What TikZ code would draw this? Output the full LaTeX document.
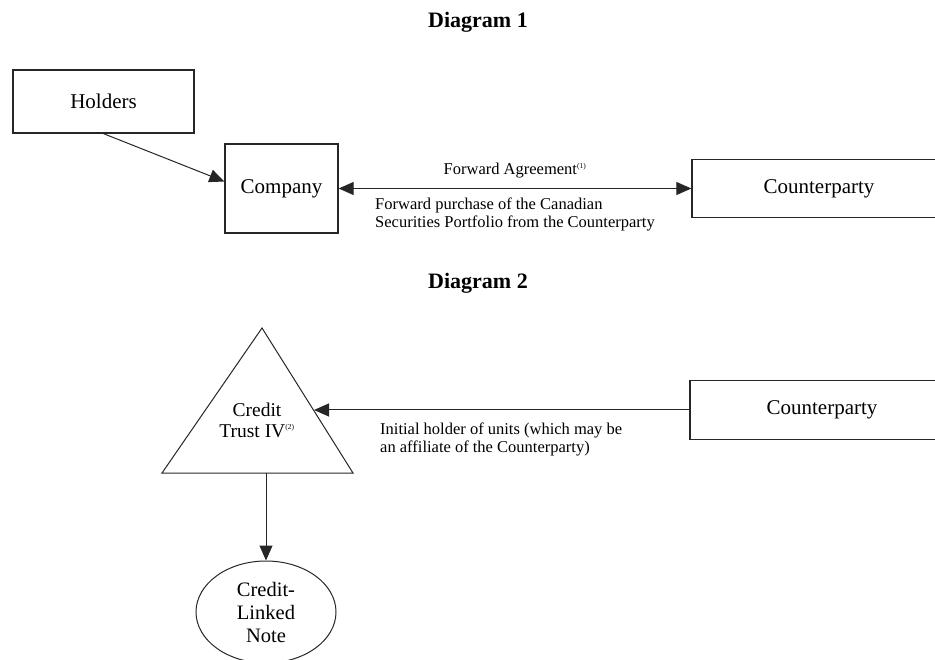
\documentclass[tikz,border=0pt]{standalone}
\usepackage{fontspec}
\setmainfont{Liberation Serif}
\usetikzlibrary{arrows.meta,shapes.geometric}
\newcommand{\supnote}[1]{\textsuperscript{\fontsize{7.5}{8}\selectfont #1}}
\begin{document}
\begin{tikzpicture}[x=1pt,y=-1pt,
  >={Triangle[length=15pt,width=13pt]},
  every node/.style={inner sep=0pt},
  title/.style={font=\fontsize{22}{26}\selectfont\bfseries},
  box/.style={draw=black!85,line width=1.3pt,font=\fontsize{21}{25}\selectfont},
  lbl/.style={font=\fontsize{16.5}{18}\selectfont,align=left},
  edge/.style={draw=black!85,line width=1pt}]
\clip (0,0) rectangle (935,660);
% Diagram 1
\node[title] (title1) at (478,22) {Diagram 1};
\node[box,minimum width=181pt,minimum height=63pt] (holders) at (103.5,101.5) {Holders};
\node[box,minimum width=113pt,minimum height=89pt] (company) at (281.5,188.5) {Company};
\node[box,minimum width=254pt,minimum height=58pt] (cp1) at (819,188.5) {Counterparty};
\draw[edge,->] (holders.south) -- ([yshift=7pt]company.west);
\draw[edge,<->] (company) -- (cp1)
  node[lbl,midway,above=10pt] (fwd) {Forward Agreement\supnote{(1)}}
  node[lbl,midway,below=9pt] (fwdbuy) {Forward purchase of the Canadian\\Securities Portfolio from the Counterparty};
% Diagram 2
\node[title] (title2) at (478,283) {Diagram 2};
\coordinate (apex) at (262,328);
\coordinate (baseR) at (353,473);
\coordinate (baseL) at (162,473);
\draw[edge] (apex) -- (baseR) -- (baseL) -- cycle;
\node[font=\fontsize{19.5}{21}\selectfont,align=center] (trust) at (257,420) {Credit\\Trust IV\supnote{(2)}};
\coordinate (trustside) at (314,410);
\coordinate (trustbase) at (266,473);
\node[box,minimum width=264pt,minimum height=59pt] (cp2) at (822,410) {Counterparty};
\draw[edge,->] (cp2.west) -- (trustside);
\node[lbl,anchor=north west] (holderlbl) at (380,423) {Initial holder of units (which may be\\an affiliate of the Counterparty)};
\node[edge,ellipse,minimum width=140pt,minimum height=102pt,font=\fontsize{20.5}{23}\selectfont,align=center] (cln) at (266,612) {Credit-\\Linked\\Note};
\draw[edge,->] (trustbase) -- (cln.north);
\end{tikzpicture}
\end{document}
